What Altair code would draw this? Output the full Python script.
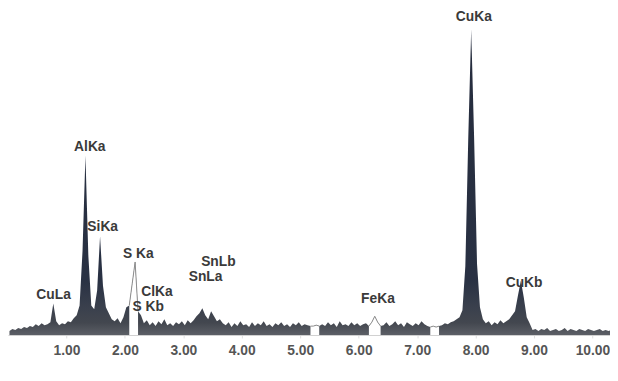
import altair as alt
import pandas as pd

# EDS spectrum: channel energies start at 0.025 keV, 0.05 keV apart
START_KEV = 0.025
STEP_KEV = 0.05
counts = [
    4, 6, 5, 7, 6, 8,
    7, 9, 8, 11, 9, 12, 10, 11,
    13, 32, 14,
    10, 12, 11, 14, 13, 17,
    20, 30, 85, 182, 80, 30, 26, 45, 100, 50, 28,
    22, 16, 14, 17, 12, 18, 28,
    30, 52, 74, 24,
    20,
    12, 15, 10, 13, 9, 14, 11, 16, 10, 12, 9, 13, 11, 14, 10, 15, 12,
    15, 19, 22, 27, 20, 16, 24, 19, 14, 16, 12,
    10, 13, 8, 12, 9, 14, 10, 11, 8, 13, 9, 12, 10, 14, 9, 11, 8, 12, 10, 13,
    9, 11, 8, 12, 10, 13, 9, 11, 10,
    9, 9, 10, 9,
    11, 9, 13, 10, 12, 8, 14, 10, 11, 9, 13, 10, 12, 9, 11, 12,
    9, 13, 19, 13, 9,
    10, 13, 9, 11, 14, 10, 12, 8, 13, 11, 9, 12, 10, 14, 11, 9,
    8, 9, 8, 9,
    10, 12, 11, 13, 14, 16, 18,
    25, 70, 200, 310, 200, 72, 28, 16,
    12, 14, 10, 13, 11, 15, 12, 14, 16,
    20, 24, 40, 55, 38, 18, 12,
    5, 6, 4, 6, 5, 7, 4, 5, 6, 4, 5, 7, 4, 6, 5, 4, 6, 5, 4, 6,
    5, 4, 5, 6, 4, 5, 4, 5,
]

# energy ranges drawn only as an outline (unfilled) in the picture
gap_ranges = [(2.05, 2.25), (5.15, 5.35), (6.15, 6.40), (7.20, 7.40)]

peak_names = ["CuLa", "AlKa", "SiKa", "S Ka", "ClKa", "S Kb", "SnLa", "SnLb", "FeKa", "CuKa", "CuKb"]
label_kev = [0.78, 1.40, 1.62, 2.23, 2.55, 2.40, 3.38, 3.60, 6.33, 7.97, 8.83]
label_height = [40, 190, 109, 82, 44, 28, 59, 74, 36, 322, 53]

tick_values = [1, 2, 3, 4, 5, 6, 7, 8, 9, 10]

energy = [round(START_KEV + STEP_KEV * i, 3) for i in range(len(counts))]
gap_id = []
for e in energy:
    gid = -1
    for k, (a, b) in enumerate(gap_ranges):
        if a <= e <= b:
            gid = k
    gap_id.append(gid)

df = pd.DataFrame({"keV": energy, "counts": counts, "gap": gap_id})
gap_df = df[df["gap"] >= 0]
lab_df = pd.DataFrame({"keV": label_kev, "counts": label_height, "name": peak_names})

x_enc = alt.X(
    "keV:Q",
    scale=alt.Scale(domain=[0, 10.3], nice=False, zero=False),
    axis=alt.Axis(
        values=tick_values, format=".2f", title=None, grid=False,
        domainColor="#d0d0d0", domainWidth=1, tickColor="#e0e0e0", tickSize=3,
        labelFont="Liberation Sans", labelFontSize=14, labelFontWeight="bold",
        labelColor="#555555", labelPadding=6, labelFlush=False, labelOverlap=False,
    ),
)
y_enc = alt.Y("counts:Q", scale=alt.Scale(domain=[0, 329], nice=False, zero=True), axis=None, stack=None)

grad = alt.Gradient(
    gradient="linear",
    stops=[
        alt.GradientStop(color="#5a6070", offset=0.0),
        alt.GradientStop(color="#262d3e", offset=0.08),
        alt.GradientStop(color="#293143", offset=0.82),
        alt.GradientStop(color="#3a404d", offset=0.91),
        alt.GradientStop(color="#43474f", offset=0.96),
        alt.GradientStop(color="#5c5f66", offset=1.0),
    ],
    x1=0, x2=0, y1=0, y2=1,
)

fill = alt.Chart(df).mark_area(clip=True, interpolate="linear", color=grad).encode(x=x_enc, y=y_enc)
white = alt.Chart(gap_df).mark_area(clip=True, interpolate="linear", color="white").encode(
    x=x_enc, y=y_enc, detail="gap:N"
)
outline = alt.Chart(gap_df).mark_line(clip=True, color="#8c8c8c", strokeWidth=1).encode(
    x=x_enc, y=y_enc, detail="gap:N"
)
labels = alt.Chart(lab_df).mark_text(
    font="Liberation Sans", fontSize=14, fontWeight="bold", color="#3a3a3a", baseline="middle"
).encode(x=x_enc, y=y_enc, text="name:N")

chart = (
    alt.layer(fill, white, outline, labels)
    .properties(
        width=610, height=329,
        padding={"left": 0, "top": 0, "right": 0, "bottom": 24},
        autosize=alt.AutoSizeParams(type="none"),
        background="white",
    )
    .configure_view(stroke=None)
)

chart.save("out.html", embed_options={"renderer": "svg", "actions": False})
